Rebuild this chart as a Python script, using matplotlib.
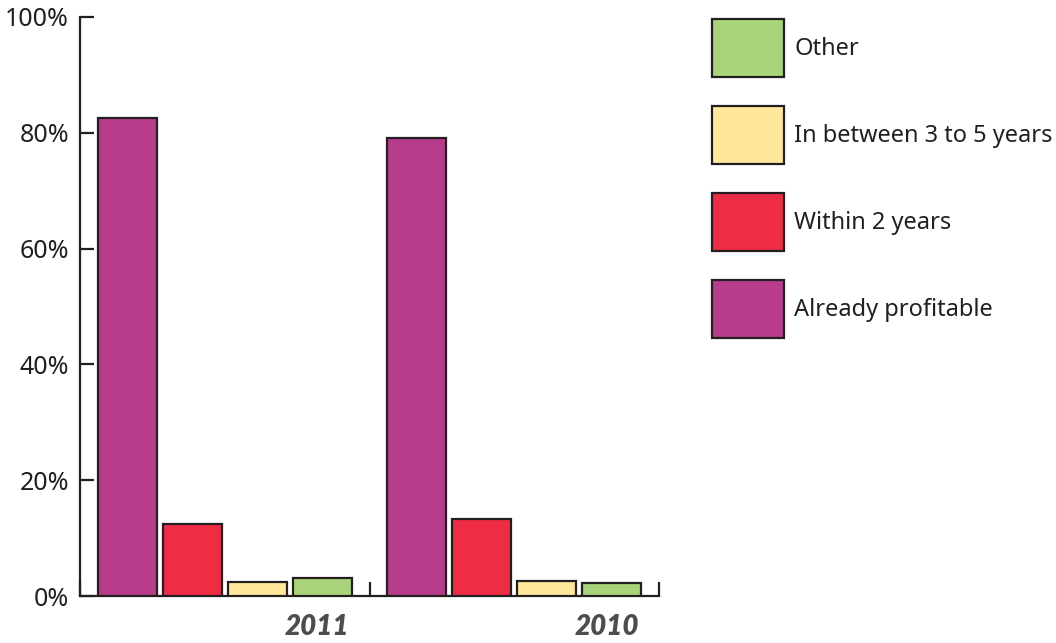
import numpy as np
import matplotlib
matplotlib.use("Agg")
import matplotlib.pyplot as plt
from matplotlib.patches import Patch

plt.rcParams['font.family'] = ['Noto Sans', 'DejaVu Sans']

years = ["2011", "2010"]
series = ["Already profitable", "Within 2 years", "In between 3 to 5 years", "Other"]
values = {
    "Already profitable": [82.6, 79.1],
    "Within 2 years": [12.5, 13.3],
    "In between 3 to 5 years": [2.4, 2.6],
    "Other": [3.1, 2.3],
}
colors = ["#B83C8C", "#EE2C44", "#FFE89C", "#A9D479"]
edge = "#231F20"

fig = plt.figure(figsize=(10.56, 6.43), dpi=100)
ax = fig.add_axes([80 / 1056, 47 / 643, 579 / 1056, 579 / 643])

width = 0.204
step = 0.2245
start = 0.061
x = np.arange(len(years))
for i, name in enumerate(series):
    ax.bar(x + start + i * step, values[name], width=width, align='edge',
           color=colors[i], edgecolor=edge, linewidth=1.6, zorder=3)

ax.set_xlim(0, 2)
ax.set_ylim(0, 100)
ax.set_yticks(np.arange(0, 101, 20))
ax.set_yticklabels([f"{v}%" for v in range(0, 101, 20)], fontsize=18, color="#231F20")
ax.set_xticks([0, 1, 2])
ax.set_xticklabels([])
ax.tick_params(axis='both', direction='in', length=10, width=1.6, color=edge, pad=8)

for s in ['top', 'right']:
    ax.spines[s].set_visible(False)
for s in ['left', 'bottom']:
    ax.spines[s].set_linewidth(1.6)
    ax.spines[s].set_color(edge)

# year labels sit at the right end of each group
for i, yr in enumerate(years):
    ax.text(i + 0.93, -0.054, yr, transform=ax.get_xaxis_transform(),
            ha='right', va='center', fontsize=20, fontweight='heavy',
            fontstyle='italic', color="#4D4D4F", family=['Lato', 'DejaVu Sans'])

handles = [Patch(facecolor=colors[i], edgecolor=edge, linewidth=1.6, label=series[i])
           for i in range(len(series))][::-1]
fs = 17
em = fs * 100 / 72  # pixels per em
box_h = 58 / em
fig.legend(handles=handles, loc='upper left',
           bbox_to_anchor=(712 / 1056, 1 - 19 / 643), bbox_transform=fig.transFigure,
           frameon=False, fontsize=fs, borderpad=0, borderaxespad=0,
           handlelength=72 / em, handleheight=(box_h - 0.245) / 0.65,
           labelspacing=29 / em, handletextpad=10 / em,
           labelcolor="#231F20")

fig.savefig("out.png", dpi=100)
